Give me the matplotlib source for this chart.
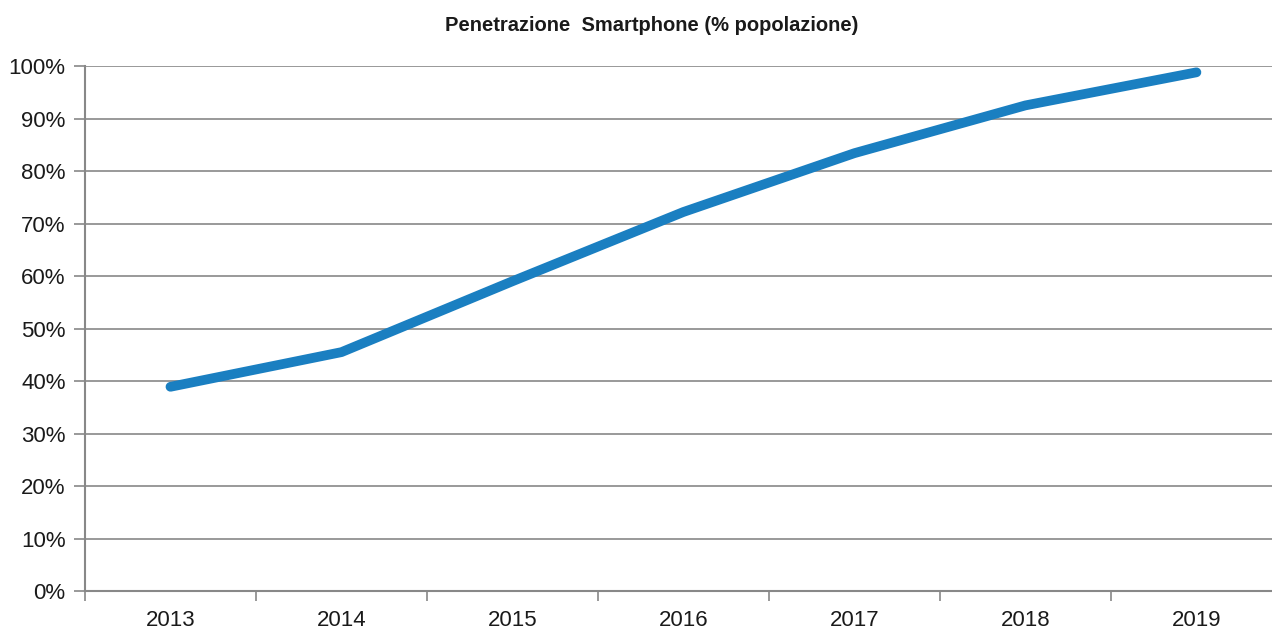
import matplotlib
matplotlib.use('Agg')
import matplotlib.pyplot as plt
from matplotlib.ticker import FixedLocator

plt.rcParams['font.family'] = ['Liberation Sans Narrow', 'Liberation Sans', 'DejaVu Sans']

# data
years = ['2013', '2014', '2015', '2016', '2017', '2018', '2019']
penetration = [38.9, 45.5, 59.0, 72.2, 83.4, 92.5, 98.8]
y_ticks = list(range(0, 101, 10))

fig = plt.figure(figsize=(12.72, 6.3), dpi=100)
# last category boundary falls just past the right edge, as in the reference
ax = fig.add_axes([0.0668, 0.0619, 0.941, 0.8333])

x = range(len(years))
ax.plot(x, penetration, color='#1a7fc1', linewidth=7, solid_capstyle='round',
        solid_joinstyle='round', zorder=3, clip_on=False)

ax.set_xlim(-0.5, len(years) - 0.5)
ax.set_ylim(0, 100)

ax.set_yticks(y_ticks)
ax.set_yticklabels([f'{v}%' for v in y_ticks], fontsize=16, color='#1a1a1a')
ax.yaxis.grid(True, color='#888888', linewidth=1.2)
ax.set_axisbelow(True)

ax.set_xticks(list(x))
ax.set_xticklabels(years, fontsize=16, color='#1a1a1a')
ax.tick_params(axis='x', which='major', length=0, pad=14)
ax.xaxis.set_minor_locator(FixedLocator([i - 0.5 for i in range(len(years) + 1)]))
ax.tick_params(axis='x', which='minor', length=7, width=1.2, color='#888888', direction='out')
ax.tick_params(axis='y', length=8, width=1.2, color='#888888', pad=6)

for side in ['top', 'right']:
    ax.spines[side].set_visible(False)
for side in ['left', 'bottom']:
    ax.spines[side].set_color('#888888')
    ax.spines[side].set_linewidth(1.5)

fig.text(0.512, 0.960, 'Penetrazione  Smartphone (% popolazione)', ha='center', va='center',
         fontsize=14.5, fontweight='bold', color='#1a1a1a')

fig.savefig('out.png', dpi=100)
